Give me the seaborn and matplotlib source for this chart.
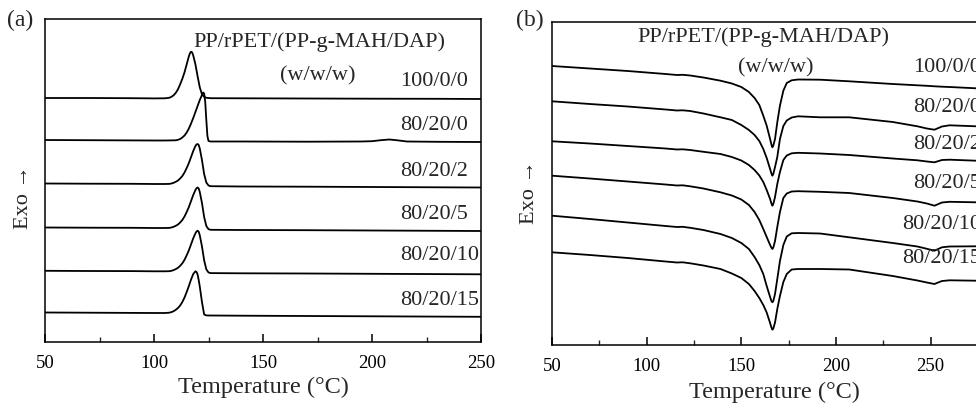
import matplotlib
matplotlib.use("Agg")
import matplotlib.pyplot as plt
from matplotlib.ticker import MultipleLocator
import seaborn as sns
import pandas as pd

# ---------------- data: panel (a) crystallization (arbitrary units, offset) -------------
labels = ["100/0/0", "80/20/0", "80/20/2", "80/20/5", "80/20/10", "80/20/15"]

T_a1 = [50, 70, 90, 100, 105, 107, 108, 109, 110, 111, 112, 113, 114, 115, 116, 116.5, 117,
        117.5, 118, 119, 120, 121, 122, 123, 124, 126, 140, 170, 200, 230, 250]
y_a1 = [244, 244, 243.8, 243.6, 243.7, 244.2, 245.2, 246.7, 249.2, 252.7, 257.7, 263.2, 269.7,
        277.7, 285.7, 288.8, 290.3, 289.6, 286.5, 277.7, 265.7, 254.7, 247.7, 245.2, 244.2,
        243.8, 243.7, 243.5, 243.3, 243.2, 243]

T_a2 = [50, 70, 90, 100, 105, 110, 111, 112, 113, 114, 115, 116, 117, 118, 119, 120, 121, 122,
        122.5, 123, 123.5, 124, 124.5, 125, 126, 140, 170, 195, 200, 204, 208, 212, 216, 230, 250]
y_a2 = [202, 201.8, 201.6, 201.5, 201.5, 201.7, 202.2, 203, 204.5, 206.5, 209.5, 213.5, 218.5,
        224, 230, 236, 242, 247, 249.5, 248.5, 240, 222, 206, 201, 200.5, 200.5, 200.3, 200.5,
        200.8, 201.8, 202.5, 201.6, 200.5, 200.2, 200]

T_a3 = [50, 70, 90, 100, 105, 107, 108, 109, 110, 111, 112, 113, 114, 115, 116, 117, 118, 119,
        119.5, 120, 120.5, 121, 122, 123, 124, 125, 126, 140, 170, 200, 230, 250]
y_a3 = [158.5, 158.3, 158.2, 158, 158, 158.1, 158.5, 159.2, 160.2, 161.5, 163.5, 166, 169.5,
        174, 179, 185, 191, 196, 197.5, 198, 197, 193.5, 182, 168, 159.5, 156.5, 155.8, 155.5,
        155.3, 155, 154.7, 154.5]
y_a4 = [114.5, 114.3, 114.2, 114, 114, 114.1, 114.5, 115.2, 116.2, 117.5, 119.5, 122, 125.5,
        130, 135, 141, 147, 152, 153.8, 154.5, 153.5, 150, 139, 125, 116, 112.8, 112.2, 112,
        111.8, 111.5, 111.2, 111]
y_a5 = [71.2, 71, 70.9, 70.7, 70.7, 70.8, 71.2, 71.9, 72.9, 74.2, 76.2, 78.7, 82.2, 86.7, 91.7,
        97.7, 103.7, 108.7, 110.5, 111.3, 110.3, 106.7, 95.7, 81.7, 72.7, 69.5, 68.9, 68.7,
        68.5, 68.2, 67.9, 67.7]
y_a6 = [29.5, 29.3, 29.1, 29, 29, 29.3, 29.9, 30.8, 32.2, 34, 36.5, 40, 44.5, 50, 56, 62.5, 68,
        70.7, 70, 67.5, 62, 55.5, 40, 27.5, 26.6, 26.5, 26.5, 26.3, 26, 25.7, 25.4, 25.2]

# ---------------- data: panel (b) melting (arbitrary units, offset) -------------
T_b = [50, 70, 90, 110, 116, 119, 123, 130, 139, 145, 150, 154, 157, 159.5, 161.6, 163.4, 165.2,
       165.9, 166.4, 166.9, 167.8, 169, 170.4, 172.2, 174, 176.6, 180, 191.6, 207, 230, 243,
       248, 252, 256, 260, 274, 300]
y_b1 = [283, 280.5, 278, 275, 274, 274.2, 273.5, 271.5, 268.3, 265.5, 262, 257, 251, 244, 233.3,
        223.3, 210, 204.5, 201.7, 203.5, 210, 226.7, 243.3, 258.3, 266, 268.7, 269.5, 269.3,
        267.7, 265, 263.7, 263.2, 262.7, 262.3, 262, 260.7, 258]
y_b2 = [247.7, 245, 242.5, 239.5, 238.5, 238.7, 238, 235.5, 231.7, 229, 224, 219, 214, 208, 200,
        191, 180, 175.5, 173.3, 175, 182, 192, 210, 223, 228.5, 231.5, 232.7, 231.7, 231.7, 227,
        222.7, 220.5, 219.3, 222.5, 223.7, 222.7, 219.5]
y_b3 = [207.7, 205.5, 203, 200.5, 199.5, 199.7, 199, 197.2, 195, 192, 188.5, 184, 179, 173.5,
        167, 159, 150, 145.5, 143.3, 145, 152, 165, 177, 189, 193.5, 195.7, 196.2, 195.5, 194,
        190.5, 188.7, 187.5, 186.7, 189, 189.3, 188.3, 185.5]
y_b4 = [173.3, 170.5, 167.5, 164.5, 163.5, 163.7, 162.7, 160.5, 156.7, 153.5, 149.5, 144, 137,
        129, 120, 112, 104, 101.3, 100, 101.5, 108, 122, 137, 151, 155.5, 157.5, 157.8, 157.2,
        156, 151, 147.5, 145.5, 143.3, 146.5, 147.2, 146.7, 144]
y_b5 = [133.3, 130, 126.5, 123, 122, 122.2, 121.2, 119, 115, 111, 106, 100, 92, 84, 75, 63, 52,
        48, 46.7, 48, 55, 70, 88, 104, 112.5, 115.7, 116, 115.5, 111.7, 106, 102.5, 100.2, 98.3,
        101.7, 102.5, 102.7, 100]
y_b6 = [96.7, 94, 91, 87.5, 86.5, 86.7, 85.7, 83.5, 80, 75.5, 71, 65, 58, 51, 44, 36.5, 26, 21.5,
        19.3, 20.5, 26.5, 40, 53, 67, 75, 79.5, 80, 80, 79.5, 73, 68.5, 66.5, 65, 68, 68.7, 68.3, 66]

# label anchor positions (data coords)
lab_a_y = [262, 218, 171.3, 128, 87, 42.3]
lab_b_y = [282, 242, 205, 166, 125, 91]

# ---------------- styling -------------
sns.set_theme(style="ticks")
plt.rcParams["font.family"] = ["Liberation Serif", "DejaVu Serif"]

fig = plt.figure(figsize=(9.76, 4.06), dpi=100)
ax1 = fig.add_axes([45 / 976, 63 / 406, 436 / 976, 323 / 406])
ax2 = fig.add_axes([552 / 976, 60 / 406, 473.3 / 976, 323 / 406])

curves_a = [(T_a1, y_a1), (T_a2, y_a2), (T_a3, y_a3), (T_a3, y_a4), (T_a3, y_a5), (T_a3, y_a6)]
curves_b = [(T_b, y) for y in (y_b1, y_b2, y_b3, y_b4, y_b5, y_b6)]

for (t, y), lab in zip(curves_a, labels):
    df = pd.DataFrame({"T": t, "Q": y})
    sns.lineplot(data=df, x="T", y="Q", ax=ax1, color="black", lw=1.3,
                 estimator=None, sort=False)
for (t, y), lab in zip(curves_b, labels):
    df = pd.DataFrame({"T": t, "Q": y})
    sns.lineplot(data=df, x="T", y="Q", ax=ax2, color="black", lw=1.3,
                 estimator=None, sort=False)

ax1.set_xlim(50, 250)
ax1.set_ylim(0, 323)
ax2.set_xlim(50, 300)
ax2.set_ylim(4, 327)

for ax in (ax1, ax2):
    ax.set_yticks([])
    ax.set_ylabel("")
    ax.xaxis.set_major_locator(MultipleLocator(50))
    ax.xaxis.set_minor_locator(MultipleLocator(25))
    ax.tick_params(axis="x", which="major", direction="in", length=6, width=1.1,
                   labelsize=13.5, pad=9, colors="black")
    ax.tick_params(axis="x", which="minor", direction="in", length=3.5, width=1.0,
                   bottom=True)
    for s in ax.spines.values():
        s.set_linewidth(1.1)
        s.set_color("black")
    ax.set_xlabel("Temperature (°C)", fontsize=17.5, labelpad=3)

ax2.xaxis.set_label_coords(0.47, -0.11)

# annotations panel (a)
ax1.text(176, 301, "PP/rPET/(PP-g-MAH/DAP)", ha="center", va="center", fontsize=16)
ax1.text(175, 267, "(w/w/w)", ha="center", va="center", fontsize=16)
for lab, yy in zip(labels, lab_a_y):
    ax1.text(212.8, yy, lab, ha="left", va="center", fontsize=16)

# annotations panel (b)
ax2.text(161.5, 313, "PP/rPET/(PP-g-MAH/DAP)", ha="center", va="center", fontsize=16)
ax2.text(168.3, 282, "(w/w/w)", ha="center", va="center", fontsize=16)
for lab, yy in zip(labels, lab_b_y):
    ax2.text(276.6, yy, lab, ha="right", va="center", fontsize=16)

fig.text(20 / 976, 1 - 20 / 406, "(a)", ha="center", va="center", fontsize=17)
fig.text(530 / 976, 1 - 20 / 406, "(b)", ha="center", va="center", fontsize=17)
fig.text(24 / 976, 1 - 197 / 406, "Exo \u2192", rotation=90, ha="center", va="center",
         fontsize=16)
fig.text(530 / 976, 1 - 192 / 406, "Exo \u2192", rotation=90, ha="center", va="center",
         fontsize=16)

fig.savefig("out.png", dpi=100, facecolor="white")
